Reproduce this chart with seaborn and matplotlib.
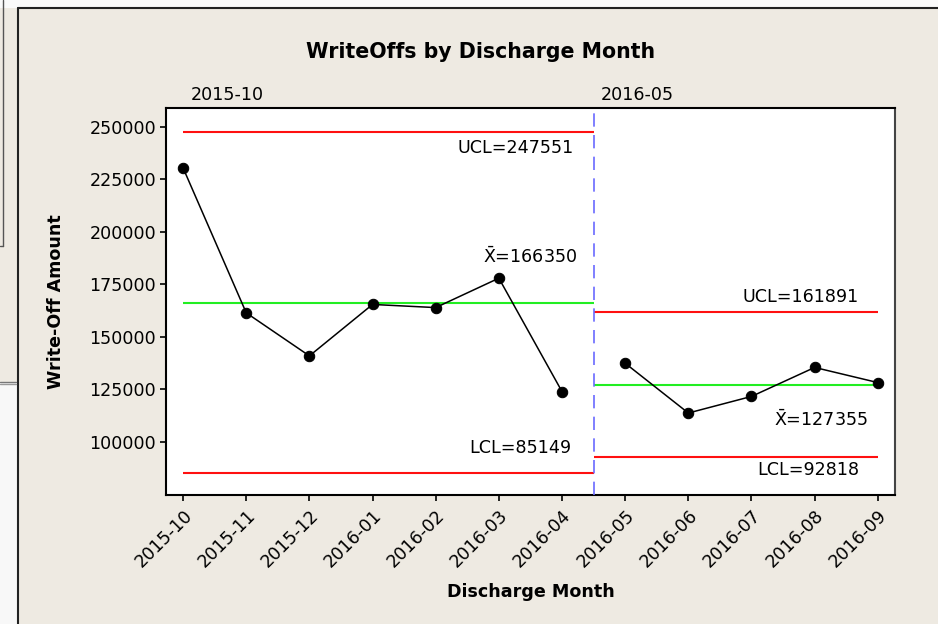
import matplotlib
matplotlib.use("Agg")
import matplotlib.pyplot as plt
from matplotlib.lines import Line2D
from matplotlib.patches import Rectangle
from matplotlib.ticker import FixedLocator
import seaborn as sns
import pandas as pd

# dados
months = ["2015-10", "2015-11", "2015-12", "2016-01", "2016-02", "2016-03", "2016-04",
          "2016-05", "2016-06", "2016-07", "2016-08", "2016-09"]
writeoffs = [230500, 161500, 141000, 165500, 164000, 178000, 124000,
             137500, 113800, 121700, 135500, 128300]
phase = [1, 1, 1, 1, 1, 1, 1, 2, 2, 2, 2, 2]

# limites de controle por fase
phase_start = [0, 7]
phase_end = [6, 11]
phase_names = ["2015-10", "2016-05"]
ucl = [247551, 161891]
center = [166350, 127355]
lcl = [85149, 92818]

yticks = [100000, 125000, 150000, 175000, 200000, 225000, 250000]

BG = "#eeeae2"

sns.set_theme(style="white")
plt.rcParams["font.family"] = ["DejaVu Sans"]
plt.rcParams["mathtext.default"] = "regular"
plt.rcParams["text.color"] = "black"
plt.rcParams["axes.labelcolor"] = "black"
plt.rcParams["xtick.color"] = "black"
plt.rcParams["ytick.color"] = "black"

df = pd.DataFrame({"idx": range(len(months)), "month": months,
                   "amount": writeoffs, "phase": phase})

fig = plt.figure(figsize=(9.38, 6.24), dpi=100, facecolor=BG)
ax = fig.add_axes([0.177, 0.2067, 0.777, 0.6203])
ax.set_facecolor("white")

# moldura da janela (captura de tela)
fig.add_artist(Rectangle((0, 0.987), 1, 0.013, transform=fig.transFigure,
                         facecolor="#fafafa", edgecolor="none"))
fig.add_artist(Rectangle((0, 0), 0.019, 0.386, transform=fig.transFigure,
                         facecolor="#f8f8f8", edgecolor="none"))
fig.add_artist(Line2D([0.019, 0.019], [0, 0.987], transform=fig.transFigure,
                      color="#222222", lw=1.5))
fig.add_artist(Line2D([0.019, 1], [0.987, 0.987], transform=fig.transFigure,
                      color="#222222", lw=1.5))
fig.add_artist(Line2D([0.0035, 0.0035], [0.606, 1], transform=fig.transFigure,
                      color="#555555", lw=1))
fig.add_artist(Line2D([0, 0.0035], [0.606, 0.606], transform=fig.transFigure,
                      color="#555555", lw=1))
fig.add_artist(Line2D([0, 0.017], [0.388, 0.388], transform=fig.transFigure,
                      color="#777777", lw=1))
fig.add_artist(Line2D([0, 0.017], [0.384, 0.384], transform=fig.transFigure,
                      color="#999999", lw=1))

# limites de controle
split = (phase_end[0] + phase_start[1]) / 2
for i in range(len(ucl)):
    x0 = phase_start[i] if i == 0 else split
    x1 = split if i == 0 else phase_end[i]
    ax.hlines(ucl[i], x0, x1, colors="#ff1010", lw=1.5, zorder=2)
    ax.hlines(lcl[i], x0, x1, colors="#ff1010", lw=1.5, zorder=2)
    ax.hlines(center[i], x0, x1, colors="#22ee22", lw=1.5, zorder=2)

# divisão das fases
ax.axvline(split, color="#6a6aff", lw=1.2, linestyle=(0, (8, 5)), zorder=3)

# série
sns.lineplot(data=df, x="idx", y="amount", units="phase", estimator=None,
             color="black", lw=1.1, marker="o", markersize=7.5,
             markeredgecolor="black", ax=ax, zorder=4, legend=False)

# rótulos dos limites
fs = 12.6
ax.annotate(f"UCL={ucl[0]}", xy=(split, ucl[0]), xytext=(-14, -11.5),
            textcoords="offset points", ha="right", va="center", fontsize=fs)
ax.annotate(rf"$\bar{{X}}$={center[0]}", xy=(split, center[0]), xytext=(-12, 33),
            textcoords="offset points", ha="right", va="center", fontsize=fs)
ax.annotate(f"LCL={lcl[0]}", xy=(split, lcl[0]), xytext=(-16, 18),
            textcoords="offset points", ha="right", va="center", fontsize=fs)
ax.annotate(f"UCL={ucl[1]}", xy=(phase_end[1], ucl[1]), xytext=(-14, 11),
            textcoords="offset points", ha="right", va="center", fontsize=fs)
ax.annotate(rf"$\bar{{X}}$={center[1]}", xy=(phase_end[1], center[1]), xytext=(-7, -25),
            textcoords="offset points", ha="right", va="center", fontsize=fs)
ax.annotate(f"LCL={lcl[1]}", xy=(phase_end[1], lcl[1]), xytext=(-13, -9.5),
            textcoords="offset points", ha="right", va="center", fontsize=fs)

# nomes das fases acima do gráfico
for i, name in enumerate(phase_names):
    xpos = phase_start[i] if i == 0 else split
    ax.text(xpos + 0.12, 1.034, name, transform=ax.get_xaxis_transform(),
            ha="left", va="center", fontsize=fs)

ax.set_xlim(-0.27, 11.27)
ax.set_ylim(74760, 259050)
ax.xaxis.set_major_locator(FixedLocator(list(range(len(months)))))
ax.set_xticklabels(months, rotation=45, ha="right", rotation_mode="anchor", fontsize=fs)
ax.yaxis.set_major_locator(FixedLocator(yticks))
ax.set_yticklabels([str(v) for v in yticks], fontsize=fs)
ax.tick_params(axis="both", which="major", direction="out", length=4, width=1.2,
               color="black", bottom=True, left=True, pad=3)
ax.tick_params(axis="x", pad=4)

for side in ["left", "bottom", "top", "right"]:
    ax.spines[side].set_color("black")
    ax.spines[side].set_linewidth(1.5)
ax.spines["right"].set_color("#444444")

ax.set_xlabel("Discharge Month", fontsize=fs, fontweight="bold")
ax.set_ylabel("Write-Off Amount", fontsize=fs, fontweight="bold")
ax.xaxis.set_label_coords(0.5, -0.227)
ax.yaxis.set_label_coords(-0.1385, 0.5)

fig.text(0.512, 0.917, "WriteOffs by Discharge Month", ha="center", va="center",
         fontsize=14.8, fontweight="bold")

fig.savefig("out.png", dpi=100, facecolor=BG)
